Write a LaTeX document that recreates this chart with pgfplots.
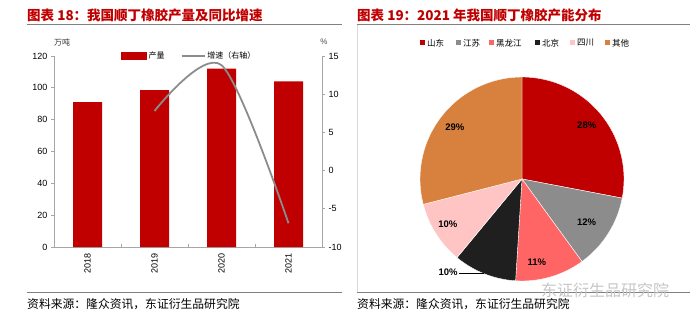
\documentclass[border=0pt]{standalone}
\usepackage{pgfplots}
\pgfplotsset{compat=1.18}
\usepackage{fontspec}
\setmainfont{Liberation Sans}
\newfontfamily\cjk{Noto Sans CJK SC}
\definecolor{barred}{HTML}{C00000}
\definecolor{linegray}{HTML}{8C8C8C}
\definecolor{sd}{HTML}{C00000}
\definecolor{js}{HTML}{8C8C8C}
\definecolor{hlj}{HTML}{FF6565}
\definecolor{bj}{HTML}{1F1F1F}
\definecolor{sc}{HTML}{FFC5C5}
\definecolor{qt}{HTML}{D8813E}
\definecolor{titlered}{HTML}{C00000}
\definecolor{axgray}{HTML}{A6A6A6}
\definecolor{rulegray}{HTML}{808080}
\begin{document}
\begin{tikzpicture}
\useasboundingbox (0pt,0pt) rectangle (700pt,321pt);
% titles
\node[anchor=west, inner sep=0, text=titlered, font=\cjk\bfseries\fontsize{13.5}{15}\selectfont] at (27pt,306pt) {图表 18：我国顺丁橡胶产量及同比增速};
\node[anchor=west, inner sep=0, text=titlered, font=\cjk\bfseries\fontsize{13.5}{15}\selectfont] at (357pt,306pt) {图表 19：2021 年我国顺丁橡胶产能分布};
\draw[rulegray, line width=1pt] (27pt,296pt) -- (342pt,296pt);
\draw[rulegray, line width=1pt] (357pt,296pt) -- (690pt,296pt);
\draw[gray!30, line width=0.5pt] (357pt,296pt) -- (357pt,29pt);
% footers
\draw[rulegray, line width=1pt] (27pt,29pt) -- (342pt,29pt);
\draw[rulegray, line width=1pt] (357pt,29pt) -- (690pt,29pt);
\node[anchor=west, inner sep=0, font=\cjk\fontsize{11.8}{12}\selectfont] at (27pt,17pt) {资料来源：隆众资讯，东证衍生品研究院};
\node[anchor=west, inner sep=0, font=\cjk\fontsize{11.8}{12}\selectfont] at (357pt,17pt) {资料来源：隆众资讯，东证衍生品研究院};
% unit labels
\node[anchor=center, inner sep=0, font=\cjk\fontsize{8}{9}\selectfont, text=black!80] at (62pt,279pt) {万吨};
\node[anchor=center, inner sep=0, font=\fontsize{8}{9}\selectfont, text=black!70] at (324pt,279pt) {\%};

% left chart: bars
\begin{axis}[at={(54pt,74pt)}, anchor=south west, width=268pt, height=191pt, scale only axis,
  xmin=-0.5, xmax=3.5, ymin=0, ymax=120, ytick={0,20,...,120},
  xtick={0,1,2,3}, xticklabels={2018,2019,2020,2021},
  axis x line*=bottom, axis y line*=left,
  axis line style={axgray, line width=0.8pt},
  x axis line style={-}, y axis line style={-},
  tick align=outside, major tick length=3pt,
  ytick style={axgray, line width=0.8pt},
  xtick style={draw=none},
  extra x ticks={0.5,1.5,2.5}, extra x tick labels={},
  extra x tick style={tick align=inside, major tick length=3pt, xtick style={draw=axgray, line width=0.8pt}},
  xticklabel style={rotate=90, anchor=east, font=\fontsize{9}{10}\selectfont},
  yticklabel style={font=\fontsize{9}{10}\selectfont},
  /pgf/number format/assume math mode=true,
  enlargelimits=false, clip=false]
\addplot[ybar, bar width=29pt, fill=barred, draw=none] coordinates {(0,91) (1,98.5) (2,112) (3,104)};
\end{axis}

% left chart: growth line on right axis
\begin{axis}[at={(54pt,74pt)}, anchor=south west, width=268pt, height=191pt, scale only axis,
  xmin=-0.5, xmax=3.5, ymin=-10, ymax=15, ytick={-10,-5,...,15},
  axis y line*=right, axis x line=none,
  axis line style={axgray, line width=0.8pt}, y axis line style={-},
  tick align=outside, major tick length=3pt,
  ytick style={axgray, line width=0.8pt},
  yticklabel style={font=\fontsize{9}{10}\selectfont},
  /pgf/number format/assume math mode=true,
  enlargelimits=false, clip=false,
  legend style={at={(0.505,1)}, anchor=center, draw=none, fill=none, inner sep=0pt,
    font=\cjk\fontsize{8}{9}\selectfont,
    /tikz/every even column/.append style={column sep=14pt}},
  legend columns=2, legend cell align=left]
\addlegendimage{legend image code/.code={\fill[barred] (0pt,-3.5pt) rectangle (25pt,3.5pt);}}
\addlegendentry{产量}
\addplot[smooth, linegray, line width=1.8pt,
  legend image code/.code={\draw[linegray, line width=1.8pt] (0pt,0pt) -- (23pt,0pt);}]
  coordinates {(1,7.8) (2,13.8) (3,-6.9)};
\addlegendentry{增速（右轴）}
\end{axis}

% right chart legend
\foreach \x/\c/\t in {422/sd/山东, 458/js/江苏, 491/hlj/黑龙江, 537/bj/北京, 572/sc/四川, 607/qt/其他} {
  \fill[\c] (\x pt-2.5pt,275.5pt) rectangle ++(5pt,5pt);
  \node[anchor=west, inner sep=0, font=\cjk\fontsize{8.5}{9}\selectfont] at (\x pt+5pt,278pt) {\t};
}

% pie
\begin{axis}[at={(522pt,142pt)}, anchor=center, width=244.8pt, height=244.8pt, scale only axis,
  xmin=-1.2, xmax=1.2, ymin=-1.2, ymax=1.2, hide axis, clip=false]
\filldraw[fill=sd, draw=white, line width=0.4pt] (axis cs:0,0) -- ++(90:102pt) arc[start angle=90, delta angle=-3.6*28, radius=102pt] -- cycle;
\filldraw[fill=js, draw=white, line width=0.4pt] (axis cs:0,0) -- ++(-10.8:102pt) arc[start angle=-10.8, delta angle=-3.6*12, radius=102pt] -- cycle;
\filldraw[fill=hlj, draw=white, line width=0.4pt] (axis cs:0,0) -- ++(-54:102pt) arc[start angle=-54, delta angle=-3.6*11, radius=102pt] -- cycle;
\filldraw[fill=bj, draw=white, line width=0.4pt] (axis cs:0,0) -- ++(-93.6:102pt) arc[start angle=-93.6, delta angle=-3.6*10, radius=102pt] -- cycle;
\filldraw[fill=sc, draw=white, line width=0.4pt] (axis cs:0,0) -- ++(-129.6:102pt) arc[start angle=-129.6, delta angle=-3.6*10, radius=102pt] -- cycle;
\filldraw[fill=qt, draw=white, line width=0.4pt] (axis cs:0,0) -- ++(-165.6:102pt) arc[start angle=-165.6, delta angle=-3.6*29, radius=102pt] -- cycle;
\path (axis cs:0,0) ++(39.6:84pt) node[font=\bfseries\fontsize{9.5}{10}\selectfont]{28\%};
\path (axis cs:0,0) ++(-34:78pt) node[font=\bfseries\fontsize{9.5}{10}\selectfont]{12\%};
\path (axis cs:0,0) ++(-80:85pt) node[font=\bfseries\fontsize{9.5}{10}\selectfont]{11\%};
\path (axis cs:0,0) ++(-148.5:87pt) node[font=\bfseries\fontsize{9.5}{10}\selectfont]{10\%};
\path (axis cs:0,0) ++(142.2:85pt) node[font=\bfseries\fontsize{9.5}{10}\selectfont]{29\%};
\draw[black, line width=0.8pt] (axis cs:0,0) ++(-111.6:102pt) -- ++(-25pt,0pt) node[anchor=east, inner sep=1.5pt, yshift=2pt, font=\bfseries\fontsize{9.5}{10}\selectfont]{10\%};
\end{axis}
% watermark
\node[anchor=west, inner sep=0, text=gray!45, font=\cjk\fontsize{16}{17}\selectfont] at (541pt,31pt) {东证衍生品研究院};
\end{tikzpicture}
\end{document}
